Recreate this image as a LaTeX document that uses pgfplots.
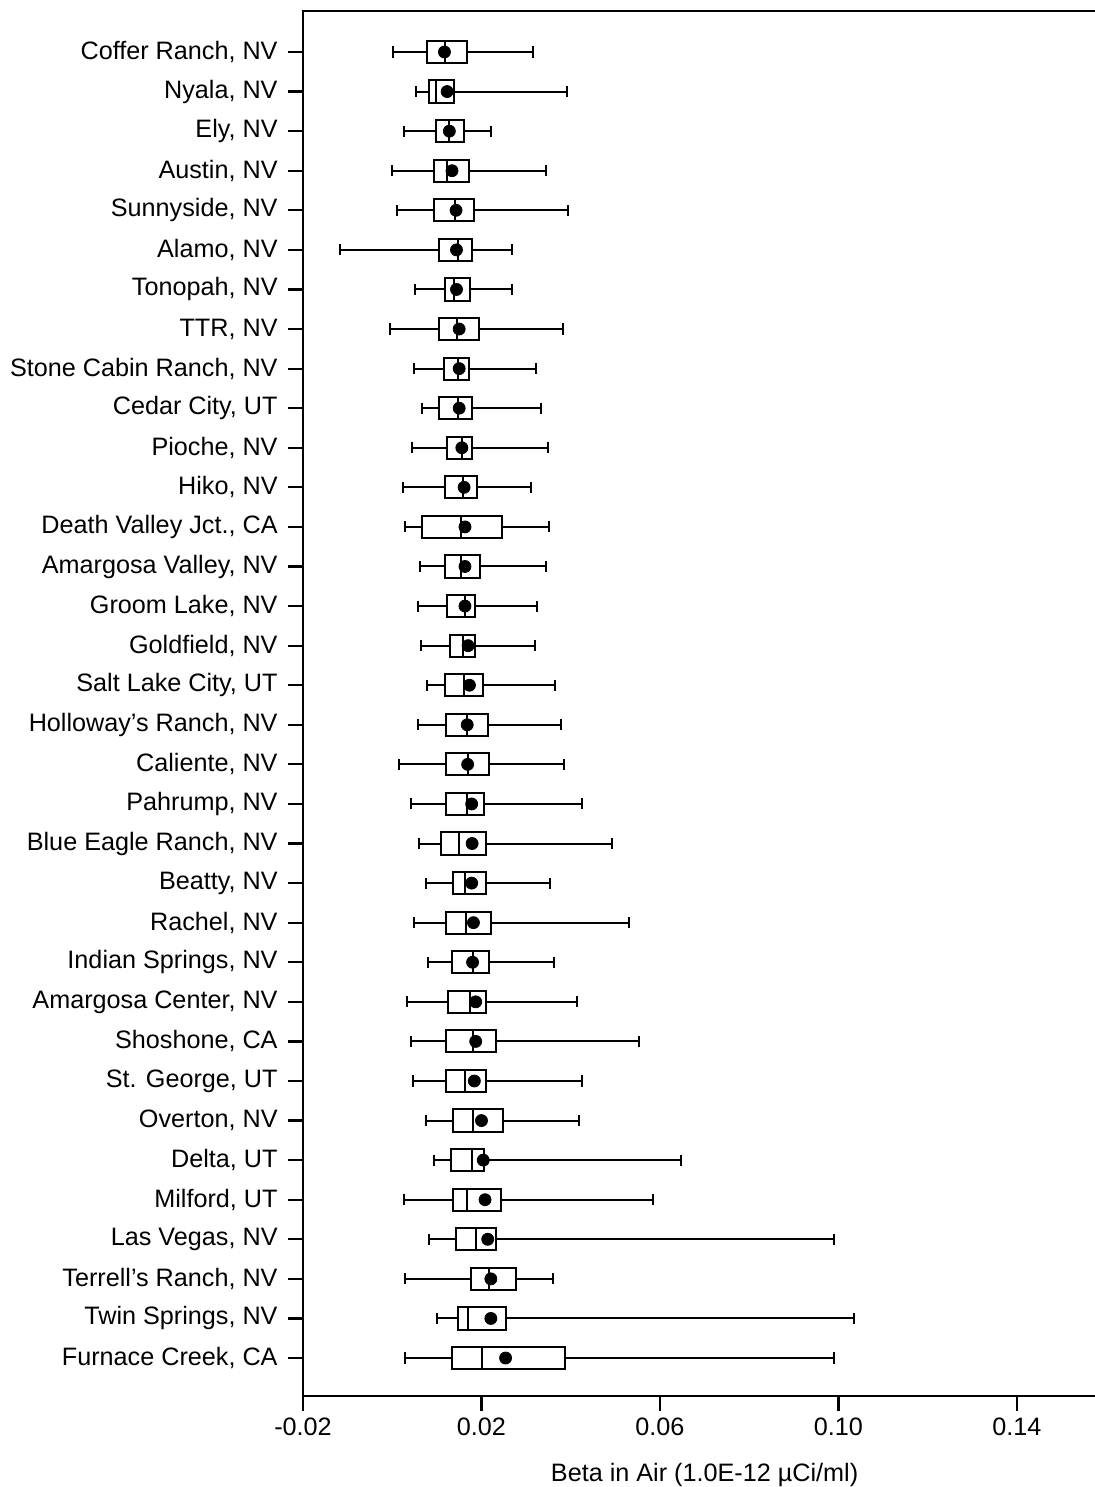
\documentclass[border=0pt]{standalone}
\usepackage{fontspec}
\setmainfont{Liberation Sans}
\usepackage{pgfplots}
\pgfplotsset{compat=1.18}
\usepgfplotslibrary{statistics}
\newcommand{\bp}[6]{\addplot[black, fill=white, line width=1pt, boxplot prepared={draw position=#1, lower whisker=#2, lower quartile=#3, median=#4, upper quartile=#5, upper whisker=#6}] coordinates {};}
\begin{document}
\begin{tikzpicture}
\begin{axis}[
  at={(0,0)}, anchor=south west,
  scale only axis, width=401.6pt, height=692.5pt,
  xmin=-0.02, xmax=0.16, ymin=-0.036, ymax=34.96,
  y dir=reverse,
  boxplot/draw direction=x,
  boxplot/box extend=0.56,
  boxplot/whisker extend=0.28,
  xtick={-0.02,0.02,0.06,0.10,0.14},
  xticklabels={-0.02,0.02,0.06,0.10,0.14},
  ytick={1,...,34},
  yticklabels={{Coffer Ranch, NV},{Nyala, NV},{Ely, NV},{Austin, NV},{Sunnyside, NV},{Alamo, NV},{Tonopah, NV},{TTR, NV},{Stone Cabin Ranch, NV},{Cedar City, UT},{Pioche, NV},{Hiko, NV},{Death Valley Jct., CA},{Amargosa Valley, NV},{Groom Lake, NV},{Goldfield, NV},{Salt Lake City, UT},{Holloway's Ranch, NV},{Caliente, NV},{Pahrump, NV},{Blue Eagle Ranch, NV},{Beatty, NV},{Rachel, NV},{Indian Springs, NV},{Amargosa Center, NV},{Shoshone, CA},{St. George, UT},{Overton, NV},{Delta, UT},{Milford, UT},{Las Vegas, NV},{Terrell's Ranch, NV},{Twin Springs, NV},{Furnace Creek, CA}},
  xtick pos=bottom, ytick pos=left,
  tick align=outside,
  major tick length=7.5pt,
  every tick/.style={black, line width=1.1pt},
  axis line style={line width=1.25pt},
  tick label style={font=\fontsize{12.6}{15}\selectfont},
  yticklabel style={inner sep=5pt},
  xlabel={Beta in Air (1.0E-12 µCi/ml)},
  every axis x label/.style={at={(axis description cs:0.5,0)}, anchor=center, yshift=-39.5pt, font=\fontsize{12.6}{15}\selectfont},
  clip=false,
]
\bp{1}{0.0001}{0.0077}{0.0118}{0.0168}{0.0315}
\bp{2}{0.0053}{0.0082}{0.0098}{0.0138}{0.0391}
\bp{3}{0.0027}{0.0098}{0.0128}{0.0161}{0.0221}
\bp{4}{0.0000}{0.0094}{0.0122}{0.0173}{0.0344}
\bp{5}{0.0010}{0.0093}{0.0141}{0.0183}{0.0394}
\bp{6}{-0.0117}{0.0104}{0.0148}{0.0179}{0.0268}
\bp{7}{0.0051}{0.0118}{0.0138}{0.0174}{0.0268}
\bp{8}{-0.0005}{0.0104}{0.0146}{0.0195}{0.0382}
\bp{9}{0.0049}{0.0116}{0.0147}{0.0173}{0.0322}
\bp{10}{0.0067}{0.0105}{0.0148}{0.0179}{0.0334}
\bp{11}{0.0044}{0.0122}{0.0156}{0.0179}{0.0348}
\bp{12}{0.0023}{0.0118}{0.0159}{0.0190}{0.0311}
\bp{13}{0.0029}{0.0067}{0.0153}{0.0247}{0.0351}
\bp{14}{0.0062}{0.0118}{0.0153}{0.0197}{0.0345}
\bp{15}{0.0057}{0.0123}{0.0163}{0.0186}{0.0324}
\bp{16}{0.0064}{0.0129}{0.0159}{0.0186}{0.0319}
\bp{17}{0.0077}{0.0118}{0.0161}{0.0204}{0.0365}
\bp{18}{0.0057}{0.0120}{0.0168}{0.0215}{0.0378}
\bp{19}{0.0015}{0.0121}{0.0169}{0.0216}{0.0386}
\bp{20}{0.0042}{0.0121}{0.0168}{0.0206}{0.0426}
\bp{21}{0.0059}{0.0109}{0.0150}{0.0209}{0.0492}
\bp{22}{0.0076}{0.0137}{0.0164}{0.0211}{0.0353}
\bp{23}{0.0049}{0.0120}{0.0165}{0.0221}{0.0531}
\bp{24}{0.0081}{0.0135}{0.0180}{0.0216}{0.0363}
\bp{25}{0.0032}{0.0125}{0.0174}{0.0209}{0.0414}
\bp{26}{0.0043}{0.0120}{0.0180}{0.0232}{0.0553}
\bp{27}{0.0047}{0.0120}{0.0164}{0.0209}{0.0425}
\bp{28}{0.0076}{0.0137}{0.0180}{0.0249}{0.0419}
\bp{29}{0.0093}{0.0132}{0.0179}{0.0206}{0.0647}
\bp{30}{0.0026}{0.0137}{0.0167}{0.0243}{0.0585}
\bp{31}{0.0082}{0.0142}{0.0187}{0.0232}{0.0991}
\bp{32}{0.0028}{0.0177}{0.0216}{0.0277}{0.0360}
\bp{33}{0.0100}{0.0148}{0.0170}{0.0256}{0.1035}
\bp{34}{0.0028}{0.0133}{0.0202}{0.0388}{0.0991}
\addplot[only marks, mark=*, mark size=3pt, black] table {
x y
0.0117 1
0.0123 2
0.0128 3
0.0134 4
0.0143 5
0.0144 6
0.0144 7
0.0150 8
0.0150 9
0.0150 10
0.0156 11
0.0161 12
0.0163 13
0.0163 14
0.0163 15
0.0170 16
0.0173 17
0.0168 18
0.0169 19
0.0178 20
0.0179 21
0.0178 22
0.0182 23
0.0180 24
0.0187 25
0.0187 26
0.0184 27
0.0200 28
0.0204 29
0.0208 30
0.0214 31
0.0221 32
0.0221 33
0.0254 34
};
\end{axis}
\pgfresetboundingbox
\useasboundingbox (-151.5pt,-45.5pt) rectangle (396pt,698pt);
\end{tikzpicture}
\end{document}
